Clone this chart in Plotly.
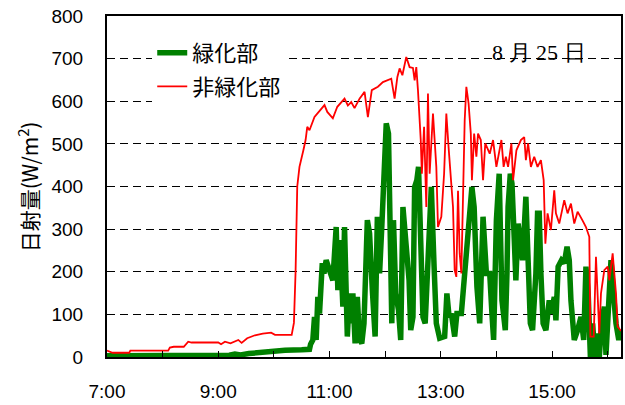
import plotly.graph_objects as go

# ---- data (time in decimal hours, value in W/m2) ----
green_t = [7.00, 8.00, 9.00, 9.12, 9.20, 9.30, 9.40, 9.55, 9.70, 9.84, 10.00, 10.20, 10.50, 10.64,
           10.66, 10.70, 10.73, 10.76, 10.79, 10.82, 10.87, 10.90, 10.94, 11.00, 11.06, 11.12, 11.15,
           11.19, 11.24, 11.27, 11.32, 11.36, 11.39, 11.42, 11.46, 11.50, 11.54, 11.58, 11.62, 11.68,
           11.72, 11.77, 11.82, 11.86, 11.90, 11.94, 11.98, 12.02, 12.06, 12.10, 12.12, 12.15, 12.19,
           12.24, 12.28, 12.32, 12.38, 12.43, 12.46, 12.50, 12.53, 12.57, 12.60, 12.64, 12.68, 12.72,
           12.76, 12.80, 12.83, 12.88, 12.92, 12.98, 13.07, 13.11, 13.15, 13.19, 13.25, 13.29, 13.37,
           13.43, 13.50, 13.56, 13.60, 13.65, 13.70, 13.76, 13.82, 13.88, 13.92, 13.95, 14.00, 14.05,
           14.10, 14.13, 14.16, 14.19, 14.21, 14.25, 14.28, 14.31, 14.35, 14.39, 14.43, 14.47, 14.53,
           14.57, 14.61, 14.65, 14.71, 14.74, 14.77, 14.80, 14.84, 14.89, 14.95, 14.99, 15.04, 15.07,
           15.11, 15.17, 15.22, 15.27, 15.31, 15.34, 15.40, 15.46, 15.52, 15.57, 15.61, 15.65, 15.69,
           15.73, 15.77, 15.81, 15.85, 15.89, 15.94, 15.97, 16.01, 16.06, 16.10, 16.15, 16.20, 16.24]
green_v = [3, 3, 3, 6, 4, 7, 5, 8, 10, 12, 13, 16, 17, 18,
           30, 40, 94, 40, 141, 102, 220, 196, 227, 203, 180, 305, 157,
           274, 118, 305, 48, 149, 79, 149, 32, 141, 40, 32, 79, 321,
           290, 157, 48, 329, 196, 305, 470, 548, 524, 118, 79, 321, 149,
           110, 40, 352, 259, 180, 63, 94, 399, 415, 446, 305, 94, 79,
           180, 337, 399, 212, 79, 44, 48, 149, 94, 102, 48, 102, 102,
           196, 305, 399, 352, 165, 79, 329, 196, 196, 102, 40, 321, 430,
           133, 79, 63, 196, 352, 430, 407, 313, 180, 313, 259, 227, 376,
           259, 79, 63, 196, 337, 337, 196, 79, 63, 133, 102, 141, 86,
           212, 227, 220, 259, 227, 133, 40, 63, 94, 40, 212, 149, 0,
           79, 0, 55, 0, 79, 118, 5, 133, 227, 157, 79, 40, 63]

red_t = [7.00, 7.05, 7.10, 7.40, 7.42, 8.10, 8.13, 8.20, 8.38, 8.46, 8.52, 9.00, 9.05, 9.12, 9.22,
         9.36, 9.42, 9.52, 9.66, 9.80, 9.95, 10.02, 10.32, 10.36, 10.39, 10.42, 10.46, 10.53, 10.57,
         10.60, 10.64, 10.73, 10.80, 10.91, 10.96, 11.06, 11.14, 11.27, 11.33, 11.39, 11.45, 11.54,
         11.63, 11.69, 11.76, 11.87, 11.96, 12.11, 12.17, 12.22, 12.26, 12.31, 12.38, 12.44, 12.50,
         12.53, 12.56, 12.59, 12.64, 12.66, 12.70, 12.74, 12.77, 12.80, 12.86, 12.92, 12.95, 13.01,
         13.06, 13.10, 13.14, 13.19, 13.22, 13.25, 13.28, 13.31, 13.34, 13.37, 13.40, 13.43, 13.46,
         13.50, 13.54, 13.56, 13.60, 13.64, 13.67, 13.72, 13.76, 13.80, 13.88, 13.94, 14.00, 14.06,
         14.09, 14.13, 14.17, 14.21, 14.27, 14.30, 14.36, 14.44, 14.50, 14.53, 14.57, 14.62, 14.68,
         14.74, 14.80, 14.85, 14.88, 14.92, 14.98, 15.04, 15.07, 15.13, 15.22, 15.28, 15.34, 15.40,
         15.46, 15.55, 15.61, 15.67, 15.69, 15.75, 15.79, 15.85, 15.88, 15.94, 16.00, 16.03, 16.09,
         16.15, 16.18, 16.24]
red_v = [15, 12, 10, 10, 15, 15, 22, 24, 24, 36, 34, 34, 30, 36, 32,
         40, 33, 44, 51, 55, 57, 52, 52, 80, 200, 400, 446, 485, 509,
         540, 532, 563, 575, 591, 575, 560, 587, 606, 590, 598, 584, 606,
         622, 563, 626, 634, 645, 653, 606, 657, 677, 661, 704, 680, 678,
         649, 680, 626, 509, 430, 540, 352, 618, 430, 571, 446, 305, 329,
         430, 571, 493, 399, 352, 204, 188, 390, 243, 196, 352, 555, 634,
         595, 524, 415, 524, 470, 524, 509, 415, 501, 477, 509, 446, 485,
         509, 446, 470, 446, 501, 415, 485, 509, 516, 462, 501, 446, 470,
         446, 462, 415, 266, 337, 298, 391, 337, 313, 368, 337, 360, 313,
         341, 320, 305, 282, 48, 48, 235, 55, 149, 204, 212, 180, 243,
         149, 71, 61]

series_names = ["緑化部", "非緑化部"]
tick_vals = [7, 8, 9, 10, 11, 12, 13, 14, 15, 16]
tick_text = ["7:00", "", "9:00", "", "11:00", "", "13:00", "", "15:00", ""]
y_ticks = [0, 100, 200, 300, 400, 500, 600, 700, 800]
y_title = "日射量(W/m<sup>2</sup>)"
date_label = "8 月 25 日"

fig = go.Figure()
fig.add_trace(go.Scatter(x=green_t, y=green_v, mode="lines", name=series_names[0],
                         legendgroup="g", line=dict(color="#008000", width=5.5)))
fig.add_trace(go.Scatter(x=red_t, y=red_v, mode="lines", name=series_names[1],
                         legendgroup="r", line=dict(color="#FF0000", width=1.8)))

fig.update_layout(
    width=625, height=405,
    margin=dict(l=107, r=4, t=16, b=48, autoexpand=False),
    paper_bgcolor="white", plot_bgcolor="white",
    font=dict(family="Liberation Sans, Arial, sans-serif", color="black", size=19),
    showlegend=True,
    legend=dict(x=0.088, y=0.953, xanchor="left", yanchor="top",
                bgcolor="white", borderwidth=0, tracegroupgap=2,
                font=dict(family="Noto Sans CJK JP", size=22, color="black")),
    annotations=[
        dict(text=date_label, x=0.84, y=0.894, xref="paper", yref="paper",
             xanchor="center", yanchor="middle", showarrow=False,
             font=dict(family="'Liberation Serif', 'DejaVu Serif', serif", size=22, color="black")),
        dict(text=y_title, x=-0.154, y=0.50, xref="paper", yref="paper",
             xanchor="center", yanchor="middle", showarrow=False, textangle=-90,
             font=dict(family="Noto Sans CJK JP", size=21, color="black")),
    ],
)
fig.update_xaxes(range=[7, 16.24], tickvals=tick_vals, ticktext=tick_text,
                 ticks="inside", ticklen=6, tickwidth=1, tickcolor="black",
                 showline=True, linecolor="black", linewidth=2, mirror=True,
                 showgrid=False, zeroline=False, ticklabelstandoff=16, automargin=False,
                 ticklabeloverflow="allow")
fig.update_yaxes(range=[0, 800], tickvals=y_ticks,
                 ticks="inside", ticklen=6, tickwidth=1, tickcolor="black",
                 showline=True, linecolor="black", linewidth=2, mirror=True,
                 showgrid=True, gridcolor="black", gridwidth=1, griddash="8px,5px",
                 zeroline=False, ticklabelstandoff=18, automargin=False,
                 ticklabeloverflow="allow")

# remove the default 8px page margin so the figure sits at the window's corner
fig.write_html("out.html", config={"displayModeBar": False},
               post_script="document.body.style.margin='0';document.body.style.overflow='hidden';")
